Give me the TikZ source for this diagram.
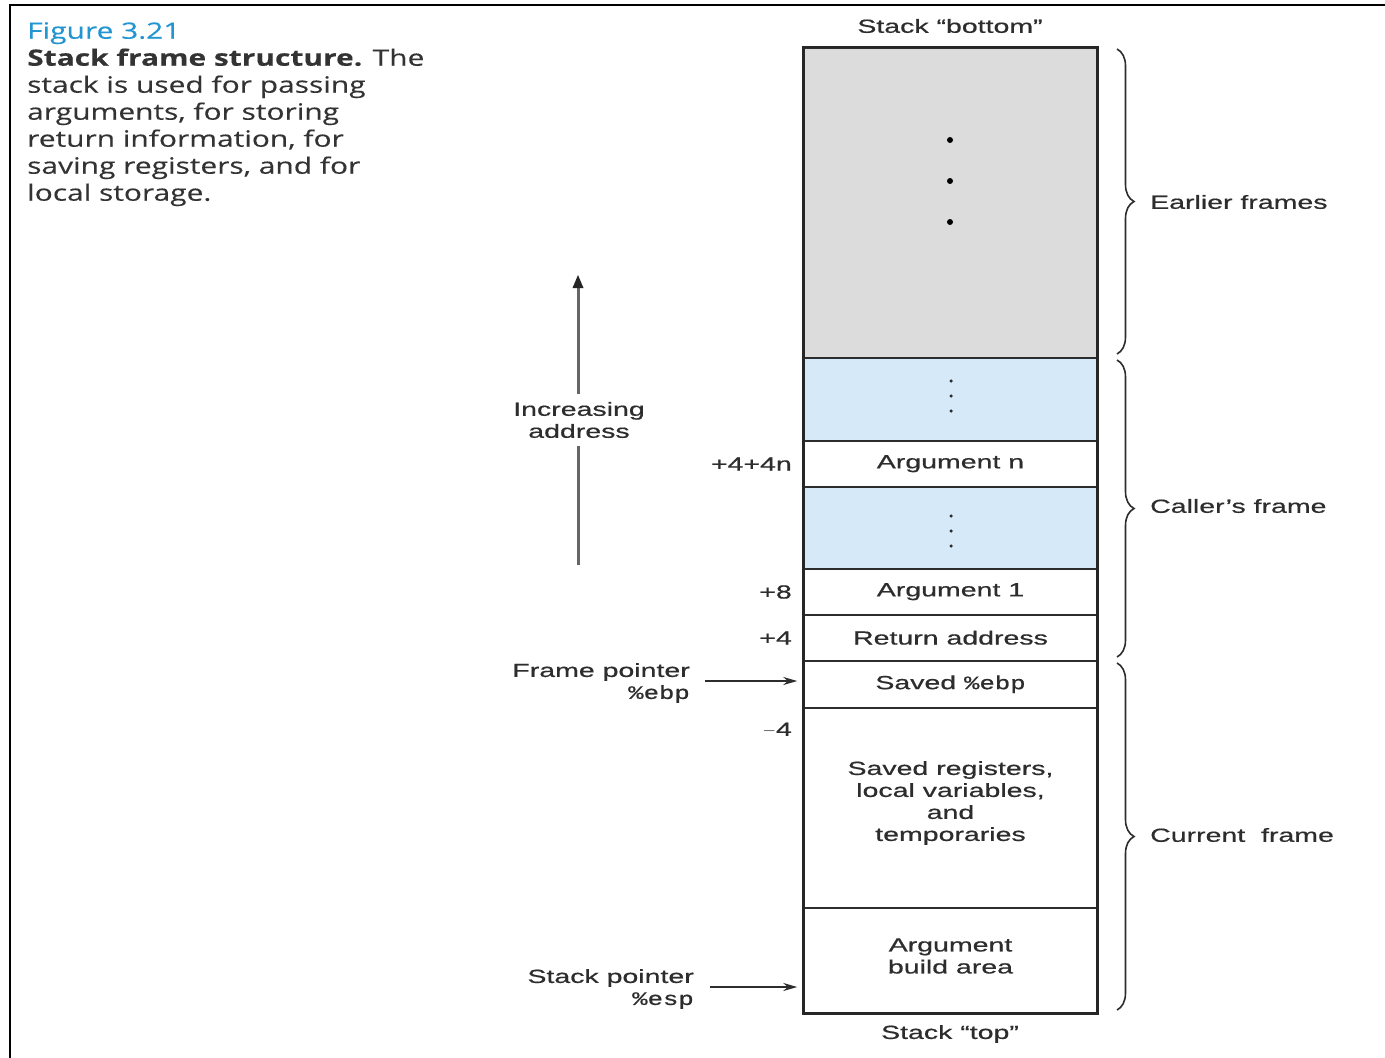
\documentclass[tikz,border=0pt]{standalone}
\usepackage{fontspec}
\setmainfont{Liberation Sans}
\newfontfamily\labfont[FakeStretch=1.5,FakeBold=0.6]{Liberation Sans}
\newfontfamily\regfont[FakeStretch=1.35,FakeBold=0.8]{Liberation Mono}
\newfontfamily\capfont[FakeStretch=1.33,FakeBold=0.3]{Open Sans}
\usetikzlibrary{decorations.pathreplacing,arrows.meta}
\definecolor{figblue}{RGB}{35,150,210}
\definecolor{framegray}{RGB}{220,220,220}
\definecolor{argblue}{RGB}{214,233,248}
\definecolor{inkgray}{RGB}{45,45,45}
\tikzset{
  cell/.style={draw=inkgray, line width=1.5pt, minimum width=293pt, inner sep=0pt,
    anchor=north, align=center, font=\labfont\fontsize{19}{22}\selectfont, text=inkgray},
  lab/.style={inner sep=0pt, align=right, font=\labfont\fontsize{19}{22}\selectfont, text=inkgray},
  ptr/.style={-{Stealth[length=14pt,width=8pt]}, line width=1.7pt, draw=inkgray},
  framebrace/.style={decorate, decoration={brace, amplitude=17pt, aspect=0.5}, line width=1.6pt, draw=inkgray},
  bigdot/.style={circle, fill=black, inner sep=0pt, minimum size=6pt},
  smalldot/.style={circle, fill=inkgray, inner sep=0pt, minimum size=3.5pt}
}
\begin{document}
\begin{tikzpicture}[x=1pt, y=-1pt]
\useasboundingbox (0,0) rectangle (1385,1058);
\fill[white] (0,0) rectangle (1385,1058);
% page rule along the top and left edges
\draw[line width=2.5pt] (10,1058) -- (10,5) -- (1385,5);

% caption
\node[anchor=north west, inner sep=0pt, align=left, font=\capfont\fontsize{22.5}{27}\selectfont, text=black!80]
  (cap) at (27,22)
  {{\color{figblue}Figure 3.21}\\
   \textbf{Stack frame structure.} The\\
   stack is used for passing\\
   arguments, for storing\\
   return information, for\\
   saving registers, and for\\
   local storage.};

% stack cells, from bottom (high address) to top (low address)
\node[cell, fill=framegray, minimum height=310pt] (earlier) at (950.5,47) {};
\node[cell, fill=argblue, minimum height=83pt] (blueA) at (950.5,357) {};
\node[cell, minimum height=46pt] (argn) at (950.5,440) {Argument n};
\node[cell, fill=argblue, minimum height=82pt] (blueB) at (950.5,486) {};
\node[cell, minimum height=46pt] (argone) at (950.5,568) {Argument 1};
\node[cell, minimum height=46pt] (ret) at (950.5,614) {Return address};
\node[cell, minimum height=47pt] (ebp) at (950.5,660) {Saved {\regfont\%ebp}};
\node[cell, minimum height=200pt] (regs) at (950.5,707) {};
\node[cell, minimum height=105pt] (bld) at (950.5,907) {};
\node[lab, align=center] (regstxt) at (950.5,803) {Saved registers,\\local variables,\\and\\temporaries};
\node[lab, align=center] (bldtxt) at (950.5,956) {Argument\\build area};
\draw[line width=2.6pt, draw=black!85] (earlier.north west) rectangle (bld.south east);

% elision dots
\node[bigdot] (da) at (950,140) {};
\node[bigdot] (db) at (950,181) {};
\node[bigdot] (dc) at (950,222) {};
\foreach \y [count=\i] in {381,396,411} \node[smalldot] (ua\i) at (951,\y) {};
\foreach \y [count=\i] in {516,531,546} \node[smalldot] (ub\i) at (951,\y) {};

% end labels
\node[lab, align=center] (sbot) at (950,26) {Stack “bottom”};
\node[lab, align=center] (stop) at (950,1034) {Stack “top”};

% offsets from the frame pointer
\node[lab, anchor=east] (offn) at (792,464) {+4+4n};
\node[lab, anchor=east] (off8) at (792,592) {+8};
\node[lab, anchor=east] (off4) at (792,638) {+4};
\node[lab, anchor=east] (offm) at (792,730) {$-$4};

% register pointers
\node[lab, anchor=east] (fp) at (690,683) {Frame pointer\\{\regfont\%ebp}};
\draw[ptr] ([xshift=15pt,yshift=2pt]fp.east) -- ([xshift=-6pt,yshift=2pt]fp.east -| ebp.west);
\node[lab, anchor=east] (sp) at (694,989) {Stack pointer\\{\regfont\%esp}};
\draw[ptr] ([xshift=16pt,yshift=2pt]sp.east) -- ([xshift=-6pt,yshift=2pt]sp.east -| bld.west);

% address direction
\node[lab, align=center, inner ysep=8pt] (inc) at (579,420) {Increasing\\address};
\coordinate (incbot) at (578,565);
\coordinate (inctop) at (578,275);
\draw[line width=3pt, draw=black!60] (incbot) -- (incbot |- inc.south);
\draw[line width=3pt, draw=black!60] (incbot |- inc.north) -- ([yshift=-8pt]inctop);
\draw[draw=none, fill=black!85] (inctop) -- ++(-5.5,13) -- ++(11,0) -- cycle;

% frame braces
\draw[framebrace] (1117,49) -- (1117,354) coordinate[pos=0.5] (efmid);
\draw[framebrace] (1117,360) -- (1117,657) coordinate[pos=0.5] (cfmid);
\draw[framebrace] (1117,663) -- (1117,1010) coordinate[pos=0.5] (curmid);
\node[lab, anchor=west] (ef) at (1150,202) {Earlier frames};
\node[lab, anchor=west] (cf) at (1150,506) {Caller’s frame};
\node[lab, anchor=west] (cur) at (1150,835) {Current\ \ frame};
\end{tikzpicture}
\end{document}
